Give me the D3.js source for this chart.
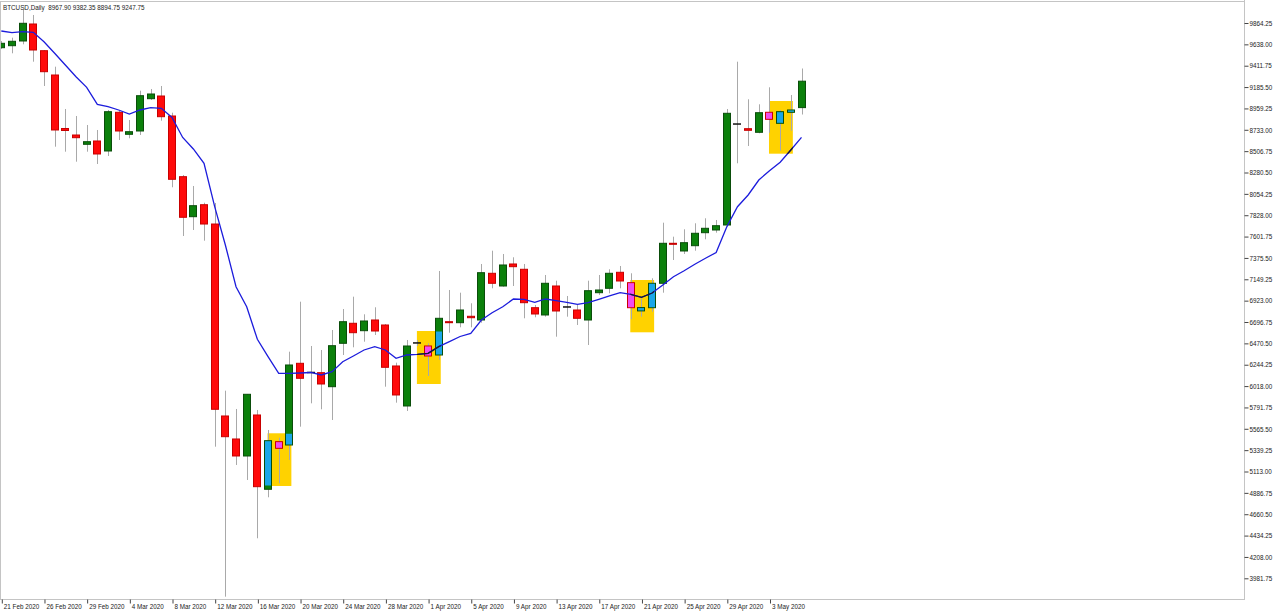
<!DOCTYPE html>
<html><head><meta charset="utf-8">
<script src="https://cdn.jsdelivr.net/npm/d3@7"></script>
<style>
body{margin:0;background:#fff;overflow:hidden;}
svg{display:block;}
text{font-family:"Liberation Sans",Arial,sans-serif;fill:#222;}
</style>
</head><body>
<svg id="chart" width="1280" height="614"></svg>
<script>
const title = "BTCUSD,Daily  8967.90 9382.35 8894.75 9247.75";

const open = [9602.6,9623.8,9673.6,9853.7,9570.8,9313.4,8746.7,8677.8,8579.3,8614.3,
  8508.4,8918.3,8685.3,8720.2,9062.4,9090.9,8879.1,8236.2,7812.4,7939.3,
  7734.8,5701.2,5457.6,5277.5,5711.8,4924.8,5429.0,5394.0,6259.3,6162.0,
  6159.8,6011.5,6471.2,6683.2,6604.8,6718.1,6665.1,6230.9,5807.2,6475.0,
  6442.7,6347.4,6700.1,6689.5,6757.3,6718.1,7212.8,7078.3,7311.4,7255.3,
  6848.4,6771.2,7078.3,6856.0,6824.0,6718.1,7007.3,7053.9,7223.4,7113.2,
  6814.5,6848.4,7106.9,7530.6,7449.0,7505.2,7642.9,7671.5,7724.4,8794.0,
  8744.6,8706.4,8918.3,8801.8,8918.3,8967.9];
const high = [9673.6,9708.5,10002.0,9949.0,9578.0,9401.3,8953.3,8879.1,8783.8,8730.8,
  8942.7,8935.3,8836.7,9147.1,9165.1,9196.9,8914.1,8254.2,8137.6,7960.5,
  7957.5,5969.2,5775.4,5934.2,5764.8,5552.9,5471.4,6382.3,6912.0,6442.7,
  6400.3,6612.2,6834.5,6965.0,6778.4,6852.6,6675.7,6265.9,6506.3,6506.3,
  6471.4,7237.2,7035.9,7007.3,6895.0,7311.4,7452.2,7417.3,7382.3,7311.4,
  6877.0,7194.8,7134.4,6972.4,6877.0,7134.4,7194.8,7255.3,7290.2,7212.8,
  6947.9,7159.8,7748.8,7600.6,7678.9,7742.5,7795.4,7777.4,8953.3,9454.3,
  9056.0,9003.0,9183.1,8942.7,9101.6,9382.35];
const low = [9588.8,9543.3,9638.6,9454.3,9196.9,8553.9,8501.0,8395.0,8501.0,8370.7,
  8455.4,8624.9,8642.9,8677.8,9048.6,8829.3,8123.8,7608.0,7671.5,7558.2,
  5375.9,3787.0,5182.2,5023.3,4405.7,4840.0,4988.3,5235.0,5587.9,5835.4,
  5772.2,5658.7,6347.4,6429.0,6488.3,6559.2,6011.5,5842.3,5754.3,6442.7,
  6124.9,6294.4,6583.6,6640.8,6640.8,6689.5,7053.9,7070.9,7078.3,6736.1,
  6746.7,6753.2,6541.1,6753.2,6665.1,6453.3,6983.2,7001.0,7053.9,6725.5,
  6753.2,6806.0,7007.3,7353.7,7417.3,7452.2,7573.0,7642.9,7706.4,8378.1,
  8561.3,8695.8,8701.8,8511.5,8723.4,8894.75];
const close = [9649.2,9670.4,9861.1,9578.2,9348.4,8730.8,8725.5,8649.2,8606.9,8476.6,
  8924.7,8720.2,8712.8,9094.2,9112.2,8871.7,8208.6,7806.1,7928.9,7734.8,
  5772.2,5481.9,5277.5,5931.0,4952.3,5439.5,5359.0,6241.5,6100.4,6162.0,
  6040.1,6445.9,6700.1,6583.6,6707.5,6601.4,6217.0,5923.7,6442.7,6475.0,
  6336.8,6736.1,6689.5,6824.0,6742.4,7219.2,7106.9,7300.8,7282.8,6901.4,
  6781.7,7106.9,6813.4,6856.0,6736.1,7028.5,7035.9,7212.8,7131.2,6848.4,
  6849.5,7106.9,7530.6,7520.0,7537.0,7636.6,7689.5,7717.0,8907.7,8794.0,
  8727.6,8914.1,8844.2,8924.7,8942.7,9247.75];
const maValues = [9779.5,9761.5,9772.1,9765.8,9666.2,9543.3,9419.0,9295.4,9183.1,9003.0,
  8977.6,8942.7,8900.3,8942.7,8967.0,8960.7,8863.2,8651.4,8530.0,8378.1,
  7918.3,7512.6,7070.9,6859.0,6513.8,6329.4,6153.4,6153.4,6156.8,6162.0,
  6135.5,6170.4,6276.4,6336.8,6400.3,6435.3,6400.3,6312.4,6347.4,6354.8,
  6365.4,6435.3,6488.3,6543.3,6575.1,6718.1,6795.4,6859.0,6940.5,6937.4,
  6905.6,6940.5,6922.5,6905.6,6884.4,6901.4,6937.4,6972.4,7007.3,6990.4,
  6958.6,7004.1,7088.8,7176.8,7240.3,7308.1,7371.6,7433.0,7706.4,7918.3,
  8042.2,8201.1,8299.6,8388.6,8518.9,8653.4];

const xTickLabels = ["21 Feb 2020","26 Feb 2020","29 Feb 2020","4 Mar 2020","8 Mar 2020",
  "12 Mar 2020","16 Mar 2020","20 Mar 2020","24 Mar 2020","28 Mar 2020","1 Apr 2020",
  "5 Apr 2020","9 Apr 2020","13 Apr 2020","17 Apr 2020","21 Apr 2020","25 Apr 2020",
  "29 Apr 2020","3 May 2020"];
const yTickValues = [9864.25,9638.00,9411.75,9185.50,8959.25,8733.00,8506.75,8280.50,8054.25,
  7828.00,7601.75,7375.50,7149.25,6923.00,6696.75,6470.50,6244.25,6018.00,5791.75,5565.50,
  5339.25,5113.00,4886.75,4660.50,4434.25,4208.00,3981.75];

// pattern boxes (three-candle patterns), start index and price range
const patternStart = [25, 39, 59, 72];
const patternTop = [5518.0, 6601.4, 7141.8, 9038.0];
const patternBottom = [4959.7, 6040.1, 6587.8, 8479.8];

const svg = d3.select("#chart");
const plotRight = 1244, plotBottom = 599;
const fontSize = "6.3px";

const x = d3.scaleLinear().domain([0, 75]).range([1.3, 801.5]);
const y = d3.scaleLinear().domain([3981.75, 9864.25]).range([578.3, 23]);
const bodyW = 8;

const defs = svg.append("defs");
defs.append("clipPath").attr("id","plotClip")
  .append("rect").attr("x",1).attr("y",2).attr("width",plotRight-1).attr("height",plotBottom-2);

const yc = defs.append("clipPath").attr("id","yellowClip");
patternStart.forEach((s,k)=>{
  yc.append("rect")
    .attr("x", x(s)-0.5).attr("width", x(s+2)-x(s)+2.5)
    .attr("y", y(patternTop[k])).attr("height", y(patternBottom[k])-y(patternTop[k]));
});

const plot = svg.append("g").attr("clip-path","url(#plotClip)");

// yellow pattern boxes
plot.selectAll("rect.pat").data(patternStart).join("rect").attr("class","pat")
  .attr("x", s=>x(s)-0.5).attr("width", s=>x(s+2)-x(s)+2.5)
  .attr("y",(s,k)=>y(patternTop[k])).attr("height",(s,k)=>y(patternBottom[k])-y(patternTop[k]))
  .attr("fill","#ffd200");

const idx = d3.range(open.length);
// wicks
plot.selectAll("line.wick").data(idx).join("line").attr("class","wick")
  .attr("x1",i=>Math.round(x(i))+0.5).attr("x2",i=>Math.round(x(i))+0.5)
  .attr("y1",i=>y(high[i])).attr("y2",i=>y(low[i]))
  .attr("stroke","#a9a9a9").attr("stroke-width",1);

// bodies
const bodies = idx.filter(i=>open[i]!==close[i]);
plot.selectAll("rect.body").data(bodies).join("rect").attr("class","body")
  .attr("x",i=>Math.round(x(i))-3.5).attr("width",bodyW-1)
  .attr("y",i=>y(Math.max(open[i],close[i])))
  .attr("height",i=>Math.max(1,Math.abs(y(open[i])-y(close[i]))))
  .attr("fill",i=>close[i]>open[i]?"#0b800b":"#ff0a0a")
  .attr("stroke",i=>close[i]>open[i]?"#0a4d0a":"#c80000")
  .attr("stroke-width",1);

// doji lines
const dojis = idx.filter(i=>open[i]===close[i]);
plot.selectAll("line.doji").data(dojis).join("line").attr("class","doji")
  .attr("x1",i=>Math.round(x(i))-4).attr("x2",i=>Math.round(x(i))+4)
  .attr("y1",i=>y(open[i])).attr("y2",i=>y(open[i]))
  .attr("stroke","#111").attr("stroke-width",1.5);

// pattern overlays on bodies
const overlays = [];
patternStart.forEach((s,k)=>{
  for(let i=s;i<=s+2;i++){
    if(open[i]===close[i]) continue;
    const top = Math.min(Math.max(open[i],close[i]), patternTop[k]);
    const bot = Math.max(Math.min(open[i],close[i]), patternBottom[k]);
    if(top>bot) overlays.push({i, top, bot, up: close[i]>open[i]});
  }
});
plot.selectAll("rect.ov").data(overlays).join("rect").attr("class","ov")
  .attr("x",d=>Math.round(x(d.i))-3).attr("width",bodyW-2)
  .attr("y",d=>y(d.top)+0.5).attr("height",d=>Math.max(1,y(d.bot)-y(d.top)-1))
  .attr("fill",d=>d.up?"#1aa6e8":"#f04cf0");

// moving average
const line = d3.line().x((d,i)=>x(i)).y(d=>y(d));
plot.append("path").datum(maValues).attr("d",line)
  .attr("fill","none").attr("stroke","#1c1cdc").attr("stroke-width",1.3);
plot.append("g").attr("clip-path","url(#yellowClip)")
  .append("path").datum(maValues).attr("d",line)
  .attr("fill","none").attr("stroke","#1a1a2a").attr("stroke-width",1.3);

// frame
const frame = svg.append("g").attr("stroke","#c4c4c4").attr("stroke-width",1);
frame.append("line").attr("x1",0.5).attr("x2",0.5).attr("y1",1).attr("y2",plotBottom);
frame.append("line").attr("x1",0).attr("x2",plotRight).attr("y1",1.5).attr("y2",1.5);
frame.append("line").attr("x1",plotRight+0.5).attr("x2",plotRight+0.5).attr("y1",0).attr("y2",plotBottom+1);
frame.append("line").attr("x1",0).attr("x2",plotRight+1).attr("y1",plotBottom+0.5).attr("y2",plotBottom+0.5);

// y axis (right)
const yAxis = d3.axisRight(y).tickValues(yTickValues).tickFormat(d3.format(".2f")).tickSize(4).tickPadding(1);
const ya = svg.append("g").attr("transform",`translate(${plotRight+0.5},0)`).call(yAxis);
ya.select(".domain").remove();
ya.selectAll(".tick line").attr("stroke","#444");
ya.selectAll(".tick text").attr("font-size",fontSize).attr("fill","#222")
  .style("font-family","'Liberation Sans',Arial,sans-serif").attr("dy","0.35em");

// x axis (bottom)
const xTickIdx = xTickLabels.map((d,k)=>k*4);
const xAxis = d3.axisBottom(x).tickValues(xTickIdx).tickFormat((d,k)=>xTickLabels[k]).tickSize(4);
const xa = svg.append("g").attr("transform",`translate(0.5,${plotBottom+0.5})`).call(xAxis);
xa.select(".domain").remove();
xa.selectAll(".tick line").attr("stroke","#444");
xa.selectAll(".tick text").attr("font-size",fontSize).attr("fill","#222")
  .attr("text-anchor","start").attr("x",1.5).attr("y",5).attr("dy","0.71em")
  .style("font-family","'Liberation Sans',Arial,sans-serif");

// title
svg.append("text").attr("x",3).attr("y",9.5).attr("font-size",fontSize).attr("fill","#222")
  .attr("xml:space","preserve").style("white-space","pre").text(title);
</script>
</body></html>
